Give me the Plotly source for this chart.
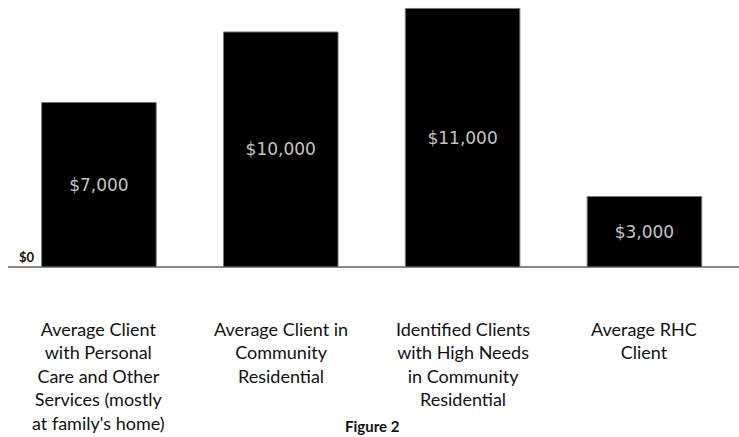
import plotly.graph_objects as go

categories = [
    "Average Client<br>with Personal<br>Care and Other<br>Services (mostly<br>at family's home)",
    "Average Client in<br>Community<br>Residential",
    "Identified Clients<br>with High Needs<br>in Community<br>Residential",
    "Average RHC<br>Client",
]
cat_keys = ["c1", "c2", "c3", "c4"]
values = [7000, 10000, 11000, 3000]
value_labels = ["$7,000", "$10,000", "$11,000", "$3,000"]

fig = go.Figure()
fig.add_trace(go.Bar(
    x=cat_keys, y=values, text=value_labels,
    textposition="inside", insidetextanchor="middle",
    textfont=dict(family="DejaVu Sans", size=17, color="#c4c4c4"),
    marker=dict(color="#000000", line=dict(color="#777777", width=1)),
    width=0.63, hoverinfo="skip",
))

for k, lab in zip(cat_keys, categories):
    fig.add_annotation(x=k, xref="x", y=0, yref="paper", yanchor="top",
                       yshift=-49, text=lab, showarrow=False,
                       font=dict(family="Lato", size=18, color="#111111"),
                       align="center")

fig.add_annotation(x=0.498, xref="paper", y=0, yref="paper", yanchor="bottom",
                   yshift=-170, text="<b>Figure 2</b>", showarrow=False,
                   font=dict(family="Lato", size=15, color="#111111"))

fig.update_layout(
    width=739, height=437,
    margin=dict(l=8, r=0, t=0, b=170),
    paper_bgcolor="white", plot_bgcolor="white",
    showlegend=False,
    bargap=0.37,
    xaxis=dict(showticklabels=False, showgrid=False, zeroline=False,
               showline=False, range=[-0.5, 3.52], fixedrange=True),
    yaxis=dict(range=[0, 11360], showgrid=False, zeroline=True,
               zerolinecolor="#888888", zerolinewidth=2,
               tickvals=[0], ticktext=["<b>$0</b>"], ticks="",
               ticklabelposition="inside top", ticklabelstandoff=8,
               tickfont=dict(family="Lato", size=13, color="#111111"),
               showline=False),
)

fig.write_html("out.html")
